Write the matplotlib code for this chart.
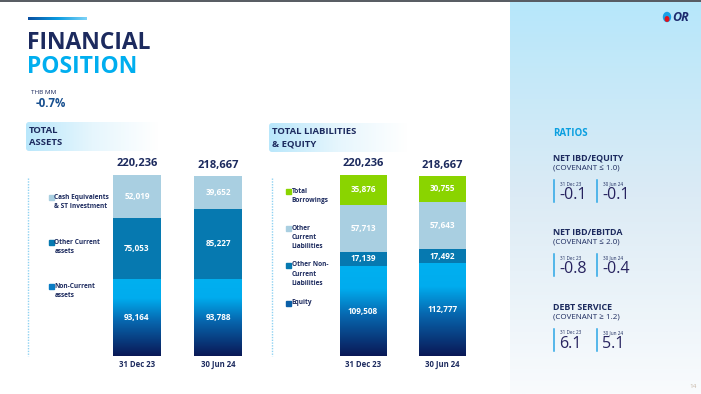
import numpy as np
import matplotlib
matplotlib.use("Agg")
import matplotlib.pyplot as plt
from matplotlib.colors import LinearSegmentedColormap
from matplotlib.patches import FancyBboxPatch, Rectangle, Ellipse

plt.rcParams['font.family'] = ['Open Sans', 'DejaVu Sans']

# ---------------- data ----------------
periods = ["31 Dec 23", "30 Jun 24"]
asset_labels = ["Non-Current\nassets", "Other Current\nassets", "Cash Equivalents\n& ST Investment"]
non_current_assets = [93164, 93788]
other_current_assets = [75053, 85227]
cash_st_invest = [52019, 39652]
total_assets = [220236, 218667]

liab_labels = ["Equity", "Other Non-\nCurrent\nLiabilities", "Other\nCurrent\nLiabilities", "Total\nBorrowings"]
equity = [109508, 112777]
other_noncurrent_liab = [17139, 17492]
other_current_liab = [57713, 57643]
total_borrowings = [35876, 30755]
total_liab_equity = [220236, 218667]

ratio_names = ["NET IBD/EQUITY", "NET IBD/EBITDA", "DEBT SERVICE"]
ratio_covenants = ["(COVENANT \u2264 1.0)", "(COVENANT \u2264 2.0)", "(COVENANT \u2265 1.2)"]
ratio_dec23 = ["-0.1", "-0.8", "6.1"]
ratio_jun24 = ["-0.1", "-0.4", "5.1"]

# ---------------- styles ----------------
NAVY = "#1c2a5e"
CYAN = "#00aeef"
C_LIGHT = "#a9cfe1"
C_MID = "#0679b0"
C_GREEN = "#8ad400"
W, H = 701, 394
grad_cmap = LinearSegmentedColormap.from_list(
    "g", [(0.0, "#0a1856"), (0.45, "#0766ae"), (0.75, "#00acee"), (1.0, "#00b0f0")])

fig = plt.figure(figsize=(7.01, 3.94), dpi=100)
bg = fig.add_axes([0, 0, 1, 1])
bg.set_xlim(0, W); bg.set_ylim(H, 0); bg.axis('off')

# right panel gradient
pan = np.linspace(0, 1, 256)[:, None]
pan_cmap = LinearSegmentedColormap.from_list("p", ["#b6e7fb", "#dcebf5", "#f9fbfd"])
bg.imshow(pan, extent=[510, W, H, 0], aspect='auto', cmap=pan_cmap, zorder=0)
bg.set_xlim(0, W); bg.set_ylim(H, 0)
bg.plot([0, W], [0.6, 0.6], color="#555a60", lw=1.4, zorder=5)

# title accent line
hl = np.linspace(0, 1, 256)[None, :]
hl_cmap = LinearSegmentedColormap.from_list("h", ["#0a4fa0", "#0a9be0", "#7fd3f7"])
bg.imshow(hl, extent=[28, 87, 19.5, 16.5], aspect='auto', cmap=hl_cmap, zorder=2)
bg.set_xlim(0, W); bg.set_ylim(H, 0)

bg.text(27, 42.5, "FINANCIAL", fontsize=16.5, fontweight='bold', color=NAVY, va='center', ha='left')
bg.text(27, 66.5, "POSITION", fontsize=16.5, fontweight='bold', color=CYAN, va='center', ha='left')
bg.text(31, 92, "THB MM", fontsize=4.6, color=NAVY, va='center')
bg.text(36, 103, "-0.7%", fontsize=8.3, fontweight='bold', color="#174f8f", va='center')


def header_box(x0, y0, w, h, lines):
    box = FancyBboxPatch((x0, y0), w, h, boxstyle="round,pad=0,rounding_size=3",
                         fc='none', ec='none', transform=bg.transData)
    bg.add_patch(box)
    g = np.linspace(0, 1, 256)[None, :]
    cm = LinearSegmentedColormap.from_list("b", ["#b9e7fb", "#e6f6fd", "#ffffff"])
    im = bg.imshow(g, extent=[x0, x0 + w, y0 + h, y0], aspect='auto', cmap=cm, zorder=1)
    im.set_clip_path(box)
    bg.set_xlim(0, W); bg.set_ylim(H, 0)
    bg.text(x0 + 3, y0 + 8.5, lines[0], fontsize=6.8, fontweight='bold', color=NAVY, va='center')
    bg.text(x0 + 3, y0 + 20.5, lines[1], fontsize=6.8, fontweight='bold', color=NAVY, va='center')


header_box(26, 122, 132, 29, ["TOTAL", "ASSETS"])
header_box(269, 123, 138, 29, ["TOTAL LIABILITIES", "& EQUITY"])

# dotted guide lines
for xd in (28, 272):
    bg.plot([xd, xd], [178, 356], color="#8fd2f2", lw=1.0, ls=(0, (1, 1)), zorder=2)


def legend_item(x, y, color, text):
    bg.add_patch(Rectangle((x, y - 2.5), 5, 5, color=color, zorder=3))
    bg.text(x + 5.5, y - 3.5, text, fontsize=4.7, fontweight='bold', color=NAVY,
            va='top', ha='left', linespacing=1.45)


legend_item(49, 197, C_LIGHT, asset_labels[2])
legend_item(49, 242, C_MID, asset_labels[1])
legend_item(49, 286, "#0a7cc4", asset_labels[0])
legend_item(286, 191, C_GREEN, liab_labels[3])
legend_item(286, 228, C_LIGHT, liab_labels[2])
legend_item(286, 265, C_MID, liab_labels[1])
legend_item(286, 303, "#0a5fa8", liab_labels[0])

YMAX = 243400


def make_chart(left_px, right_px, width, series, colors, totals, gradient_first=True):
    ax = fig.add_axes([left_px / W, 1 - 356 / H, (right_px - left_px) / W, 200 / H])
    ax.patch.set_alpha(0)
    x = np.arange(len(periods))
    bottoms = np.zeros(len(periods))
    for i, (vals, col) in enumerate(zip(series, colors)):
        vals = np.array(vals, dtype=float)
        bars = ax.bar(x, vals, bottom=bottoms, width=width,
                      color=('none' if (i == 0 and gradient_first) else col), lw=0, zorder=2)
        if i == 0 and gradient_first:
            g = np.linspace(0, 1, 256)[:, None]
            for r in bars:
                im = ax.imshow(g, extent=[r.get_x(), r.get_x() + r.get_width(),
                                          r.get_y(), r.get_y() + r.get_height()],
                               origin='lower', aspect='auto', cmap=grad_cmap, zorder=1)
                im.set_clip_path(r)
        for xi, v, b in zip(x, vals, bottoms):
            ax.text(xi, b + v / 2, f"{int(v):,}", ha='center', va='center', fontsize=5.9,
                    fontweight='bold', color='white', zorder=4)
        bottoms = bottoms + vals
    for xi, t in zip(x, totals):
        ax.annotate(f"{t:,}", (xi, t), xytext=(0, 8), textcoords='offset points',
                    ha='center', va='center', fontsize=8, fontweight='bold', color=NAVY)
    for xi, p in zip(x, periods):
        ax.annotate(p, (xi, 0), xytext=(0, -6), textcoords='offset points',
                    ha='center', va='center', fontsize=5.6, fontweight='bold', color=NAVY)
    span = (right_px - left_px)
    return ax


# left chart: centers at 137 and 218 px
ax1 = fig.add_axes([96 / W, 1 - 356 / H, 163 / W, 200 / H])
ax1.remove()


def chart(c0, c1, width_px, series, colors, totals):
    step = c1 - c0
    left = c0 - 0.6 * step
    right = c1 + 0.6 * step
    ax = make_chart(left, right, width_px / step, series, colors, totals)
    ax.set_xlim(-0.6, 1.6)
    ax.set_ylim(0, YMAX)
    ax.axis('off')
    return ax


chart(137, 218, 48, [non_current_assets, other_current_assets, cash_st_invest],
      [None, C_MID, C_LIGHT], total_assets)
chart(363, 442.5, 47, [equity, other_noncurrent_liab, other_current_liab, total_borrowings],
      [None, C_MID, C_LIGHT, C_GREEN], total_liab_equity)

# ---------------- ratios panel ----------------
bg.text(553, 133, "RATIOS", fontsize=7, fontweight='bold', color="#0a9fe0", va='center')
ratio_y = [158, 232, 307]
for name, cov, v1, v2, y in zip(ratio_names, ratio_covenants, ratio_dec23, ratio_jun24, ratio_y):
    bg.text(553, y, name, fontsize=6.4, fontweight='bold', color=NAVY, va='center')
    bg.text(553, y + 10, cov, fontsize=5.8, color=NAVY, va='center')
    for xl, lab, val in ((554, periods[0], v1), (597, periods[1], v2)):
        bg.plot([xl, xl], [y + 22, y + 44], color="#2aa6e6", lw=1.1, zorder=3)
        bg.text(xl + 6, y + 26, lab, fontsize=3.3, color=NAVY, va='center')
        bg.text(xl + 5, y + 37, val, fontsize=11.5, color="#27235f", va='center')

# logo
bg.add_patch(Ellipse((667, 17), 7, 9, color="#1aa0e6", zorder=3))
bg.add_patch(Ellipse((667, 19), 3.5, 4.5, color="#e3121b", zorder=4))
bg.text(672, 17, "OR", fontsize=9, fontweight='bold', style='italic', color="#1c2a6e", va='center')

bg.text(693, 387, "14", fontsize=4.5, color="#c8b8a8", ha='center', va='center')

fig.savefig("out.png", dpi=100)
